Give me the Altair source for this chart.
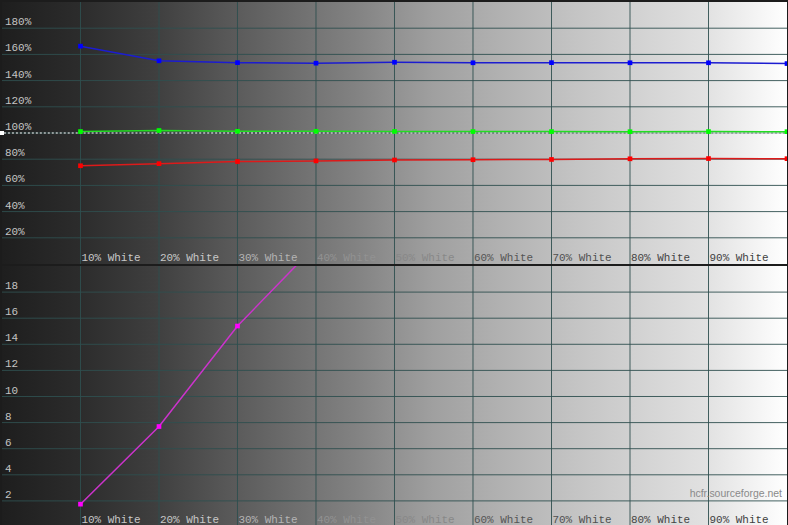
import altair as alt
import pandas as pd

# ---- data ----
levels = [10, 20, 30, 40, 50, 60, 70, 80, 90, 100]
red = [75.0, 76.6, 78.2, 78.7, 79.4, 79.6, 79.8, 80.3, 80.5, 80.4]
green = [101.1, 101.9, 101.3, 101.3, 101.2, 101.1, 101.1, 101.0, 101.1, 101.0]
blue = [166.3, 155.1, 153.7, 153.3, 154.0, 153.6, 153.7, 153.6, 153.6, 153.0]
de_levels = [10, 20, 30, 40]
delta_e = [1.75, 7.7, 15.4, 21.6]

x_grid = [10, 20, 30, 40, 50, 60, 70, 80, 90]
x_labels = ["10% White", "20% White", "30% White", "40% White", "50% White",
            "60% White", "70% White", "80% White", "90% White"]
x_label_colors = ["#c8c8c8", "#c8c8c8", "#b4b4b4", "#929292", "#888888",
                  "#555555", "#505050", "#444444", "#404040"]
top_ticks = [20, 40, 60, 80, 100, 120, 140, 160, 180]
bot_ticks = [2, 4, 6, 8, 10, 12, 14, 16, 18]

W = 788
H_TOP = 263
H_BOT = 262
GRID = "#2f4f4f"
FONT = "Liberation Mono"

xs = alt.Scale(domain=[0, 100], nice=False, zero=False)

bg_stops = [(0.0, "#1e1e1e"), (0.1, "#2c2c2c"), (0.2, "#404040"), (0.28, "#565656"),
            (0.35, "#686868"), (0.45, "#828282"), (0.55, "#a0a0a0"), (0.65, "#b4b4b4"),
            (0.73, "#c4c4c4"), (0.9, "#e2e2e2"), (1.0, "#ffffff")]
gradient = alt.Gradient(
    gradient="linear",
    stops=[alt.GradientStop(color=c, offset=o) for o, c in bg_stops],
    x1=0, x2=1, y1=0, y2=0,
)


def panel(height, yscale, yticks, ylabels, series_df, color_dom, line_cols, pt_cols, ref=False, xdy=-3):
    bg = alt.Chart(pd.DataFrame({"a": [0]})).mark_rect(color=gradient).encode(
        x=alt.value(0), x2=alt.value(W), y=alt.value(0), y2=alt.value(height)
    )
    vgrid = alt.Chart(pd.DataFrame({"x": x_grid})).mark_rule(color=GRID, strokeWidth=1, opacity=0.9).encode(
        x=alt.X("x:Q", scale=xs, axis=None)
    )
    hgrid = alt.Chart(pd.DataFrame({"y": yticks})).mark_rule(color=GRID, strokeWidth=1, opacity=0.9).encode(
        y=alt.Y("y:Q", scale=yscale, axis=None)
    )
    ylab = alt.Chart(pd.DataFrame({"y": yticks, "t": ylabels})).mark_text(
        align="left", baseline="alphabetic", dy=-3, font=FONT, fontSize=11, color="#c4c4c4"
    ).encode(x=alt.value(3), y=alt.Y("y:Q", scale=yscale, axis=None), text="t:N")
    xlab = alt.Chart(pd.DataFrame({"x": x_grid, "t": x_labels})).mark_text(
        align="left", baseline="alphabetic", dx=1, dy=xdy, font=FONT, fontSize=11
    ).encode(
        x=alt.X("x:Q", scale=xs, axis=None),
        y=alt.datum(0, scale=yscale, axis=None),
        text="t:N",
        color=alt.Color("t:N", scale=alt.Scale(domain=x_labels, range=x_label_colors), legend=None),
    )
    layers = [bg, vgrid, hgrid, ylab, xlab]
    if ref:
        refline = alt.Chart(pd.DataFrame({"y": [100]})).mark_rule(
            color="white", strokeDash=[2, 2], strokeWidth=1
        ).encode(y=alt.Y("y:Q", scale=yscale, axis=None))
        refpt = alt.Chart(pd.DataFrame({"x": [0], "y": [100]})).mark_point(
            shape="square", filled=True, size=16, color="white", opacity=1
        ).encode(x=alt.X("x:Q", scale=xs, axis=None), y=alt.Y("y:Q", scale=yscale, axis=None))
        layers += [refline, refpt]
    lines = alt.Chart(series_df).mark_line(strokeWidth=1.5, clip=True).encode(
        x=alt.X("level:Q", scale=xs, axis=None),
        y=alt.Y("value:Q", scale=yscale, axis=None),
        color=alt.Color("ch:N", scale=alt.Scale(domain=color_dom, range=line_cols), legend=None),
    )
    pts = alt.Chart(series_df).mark_point(shape="square", filled=True, size=22, opacity=1, clip=True).encode(
        x=alt.X("level:Q", scale=xs, axis=None),
        y=alt.Y("value:Q", scale=yscale, axis=None),
        color=alt.Color("ch:N", scale=alt.Scale(domain=color_dom, range=pt_cols), legend=None),
    )
    layers += [lines, pts]
    return alt.layer(*layers).resolve_scale(color="independent").properties(width=W, height=height)


top_df = pd.DataFrame({
    "level": levels * 3,
    "value": red + green + blue,
    "ch": ["Red"] * len(levels) + ["Green"] * len(levels) + ["Blue"] * len(levels),
})
bot_df = pd.DataFrame({"level": de_levels, "value": delta_e, "ch": ["dE"] * len(de_levels)})

top = panel(H_TOP, alt.Scale(domain=[0, 200], nice=False, zero=False), top_ticks,
            [f"{v}%" for v in top_ticks], top_df,
            ["Red", "Green", "Blue"], ["#dd1a1a", "#22dd22", "#1c1cd0"], ["#ff0000", "#00ff00", "#0000ff"],
            ref=True, xdy=-3)

watermark = alt.Chart(pd.DataFrame({"t": ["hcfr.sourceforge.net"]})).mark_text(
    align="right", baseline="middle", font="Liberation Sans", fontSize=10.5, color="#8a8a8a"
).encode(x=alt.value(783), y=alt.value(229), text="t:N")

bot = alt.layer(
    panel(H_BOT, alt.Scale(domain=[0, 20], nice=False, zero=False), bot_ticks,
          [str(v) for v in bot_ticks], bot_df, ["dE"], ["#cc33cc"], ["#ff00ff"], xdy=-4),
    watermark,
).properties(width=W, height=H_BOT)

chart = alt.vconcat(top, bot, spacing=0).properties(padding=0, background="#1c1c1c").configure_view(
    stroke=None
).configure_concat(spacing=0)

chart.save("out.html", embed_options={"renderer": "svg", "actions": False})
